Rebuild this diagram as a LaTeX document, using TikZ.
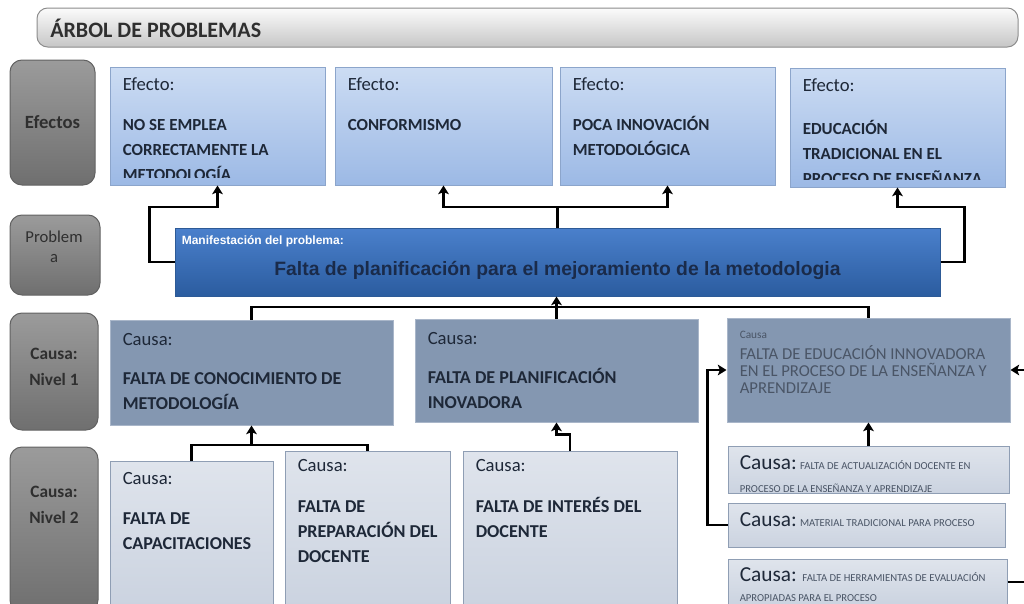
\documentclass[tikz,border=0pt]{standalone}
\usepackage{fontspec}
\setmainfont{Carlito}
\newfontfamily\arialfont{Liberation Sans}
\usetikzlibrary{arrows.meta,calc,fit}

\definecolor{efTop}{HTML}{CCDCF3}
\definecolor{efBot}{HTML}{9CB9E5}
\definecolor{efLine}{HTML}{8CA5CB}
\definecolor{probTop}{HTML}{4A80CC}
\definecolor{probBot}{HTML}{2B5C9F}
\definecolor{probLine}{HTML}{2D5A96}
\definecolor{probText}{HTML}{1A2B4A}
\definecolor{nivUnoFill}{HTML}{8497B1}
\definecolor{nivUnoLine}{HTML}{A9B6C9}
\definecolor{nivDosTop}{HTML}{DFE4EC}
\definecolor{nivDosBot}{HTML}{CBD3E0}
\definecolor{nivDosLine}{HTML}{8F9EB4}
\definecolor{lblTop}{HTML}{9B9B9B}
\definecolor{lblBot}{HTML}{6F6F6F}
\definecolor{lblLine}{HTML}{626262}
\definecolor{lblText}{HTML}{2F2F2F}
\definecolor{titTop}{HTML}{FBFBFB}
\definecolor{titBot}{HTML}{C6C6C6}
\definecolor{titLine}{HTML}{8C8C8C}
\definecolor{txtOscuro}{HTML}{1E2838}
\definecolor{txtGris}{HTML}{4A5566}

\begin{document}
\begin{tikzpicture}[x=0.75pt,y=0.75pt,yscale=-1,xscale=1,
  caja/.style={inner sep=0pt, line width=0.75pt},
  efecto/.style={caja, draw=efLine, top color=efTop, bottom color=efBot},
  etiqueta/.style={caja, draw=lblLine, top color=lblTop, bottom color=lblBot, rounded corners=9pt},
  causaUno/.style={caja, draw=nivUnoLine, fill=nivUnoFill},
  causaDos/.style={caja, draw=nivDosLine, top color=nivDosTop, bottom color=nivDosBot},
  texto/.style={anchor=base west, inner sep=0pt, align=left, text=txtOscuro},
  cabeza/.style={texto, font=\fontsize{14}{18.75}\selectfont},
  cuerpo/.style={texto, font=\bfseries\fontsize{12.7}{18.75}\selectfont},
  cuerpoCausa/.style={texto, font=\bfseries\fontsize{13.6}{18.75}\selectfont},
  rotulo/.style={inner sep=0pt, align=center, text=lblText, font=\bfseries\fontsize{13}{19.5}\selectfont},
  enlace/.style={line width=1.6pt, black},
  flecha/.style={enlace, -{Stealth[length=6.5pt,width=8pt,inset=1.5pt]}},
]
\useasboundingbox (0,0) rectangle (1024,603);
\clip (0,0) rectangle (1024,603);

% Title
\node[caja, draw=titLine, top color=titTop, bottom color=titBot, rounded corners=8pt, fit={(37,8) (1018,47)}] (titulo) {};
\node[anchor=west, inner sep=0pt, text=lblText, font=\bfseries\fontsize{16.5}{18}\selectfont] (tituloTxt) at (50,28) {ÁRBOL DE PROBLEMAS};

% Row labels
\node[etiqueta, fit={(10,60) (95,185)}] (lEfectos) {};
\node[rotulo, font=\bfseries\fontsize{14}{19.5}\selectfont] at (lEfectos.center) {Efectos};
\node[etiqueta, fit={(10,215) (100,295)}] (lProblema) {};
\node[rotulo, font=\fontsize{12.5}{15}\selectfont] at (54,247) {Problem\\a};
\node[etiqueta, fit={(10,313) (98,430)}] (lNivelUno) {};
\node[rotulo] at (54,367) {Causa:\\Nivel 1};
\node[etiqueta, fit={(10,447) (98,612)}] (lNivelDos) {};
\node[rotulo] at (54,505) {Causa:\\Nivel 2};

% Effects
\node[efecto, fit={(110,67) (325,185)}] (ef1) {};
\node[efecto, fit={(335,67) (552,185)}] (ef2) {};
\node[efecto, fit={(560,67) (775,185)}] (ef3) {};
\node[efecto, fit={(790,68) (1005,187)}] (ef4) {};
\begin{scope}
\clip (ef1.north west) rectangle ($(ef1.south east)+(0,-8)$);
\node[cabeza] (ef1Cab) at ($(ef1.north west)+(13,24)$) {Efecto:};
\node[cuerpo] (ef1Txt) at ($(ef1.north west)+(13,114)$) {NO SE EMPLEA\\CORRECTAMENTE LA\\METODOLOGÍA};
\end{scope}
\node[cabeza] (ef2Cab) at ($(ef2.north west)+(13,24)$) {Efecto:};
\node[cuerpo] (ef2Txt) at ($(ef2.north west)+(13,64)$) {CONFORMISMO};
\node[cabeza] (ef3Cab) at ($(ef3.north west)+(13,24)$) {Efecto:};
\node[cuerpo] (ef3Txt) at ($(ef3.north west)+(13,89)$) {POCA INNOVACIÓN\\METODOLÓGICA};
\begin{scope}
\clip (ef4.north west) rectangle ($(ef4.south east)+(0,-8)$);
\node[cabeza] (ef4Cab) at ($(ef4.north west)+(13,24)$) {Efecto:};
\node[cuerpo] (ef4Txt) at ($(ef4.north west)+(13,117)$) {EDUCACIÓN\\TRADICIONAL EN EL\\PROCESO DE ENSEÑANZA};
\end{scope}

% Problem
\node[caja, draw=probLine, top color=probTop, bottom color=probBot, fit={(175,228) (940,296)}] (prob) {};
\node[anchor=base west, inner sep=0pt, text=white, font=\arialfont\bfseries\fontsize{9}{10}\selectfont] (probCab) at ($(prob.north west)+(7,17)$) {Manifestación del problema:};
\node[inner sep=0pt, text=probText, font=\arialfont\bfseries\fontsize{14.5}{16}\selectfont] (probTxt) at ($(prob.center)+(0,8)$) {Falta de planificación para el mejoramiento de la metodologia};

% Causes, level 1
\node[causaUno, fit={(110,320) (393,425)}] (c1) {};
\node[causaUno, fit={(415,319) (698,422)}] (c2) {};
\node[causaUno, fit={(727,318) (1010,422)}] (c3) {};
\node[cabeza] (c1Cab) at ($(c1.north west)+(13,26)$) {Causa:};
\node[cuerpoCausa] (c1Txt) at ($(c1.north west)+(13,90)$) {FALTA DE CONOCIMIENTO DE\\METODOLOGÍA};
\node[cabeza] (c2Cab) at ($(c2.north west)+(13,26)$) {Causa:};
\node[cuerpoCausa] (c2Txt) at ($(c2.north west)+(13,90)$) {FALTA DE PLANIFICACIÓN\\INOVADORA};
\node[texto, text=txtGris, font=\fontsize{8.5}{10}\selectfont] (c3Cab) at ($(c3.north west)+(13,21)$) {Causa};
\node[texto, text=txtGris, font=\fontsize{12.5}{12.75}\selectfont] (c3Txt) at ($(c3.north west)+(13,76)$) {FALTA DE EDUCACIÓN INNOVADORA\\EN EL PROCESO DE LA ENSEÑANZA Y\\APRENDIZAJE};

% Causes, level 2
\node[causaDos, fit={(110,461) (273,606)}] (l2a) {};
\node[causaDos, fit={(285,451) (450,606)}] (l2b) {};
\node[causaDos, fit={(463,451) (677,606)}] (l2c) {};
\node[cabeza] (l2aCab) at ($(l2a.north west)+(13,24)$) {Causa:};
\node[cuerpoCausa] (l2aTxt) at ($(l2a.north west)+(13,89)$) {FALTA DE\\CAPACITACIONES};
\node[cabeza] (l2bCab) at ($(l2b.north west)+(13,21)$) {Causa:};
\node[cuerpoCausa] (l2bTxt) at ($(l2b.north west)+(13,112)$) {FALTA DE\\PREPARACIÓN DEL\\DOCENTE};
\node[cabeza] (l2cCab) at ($(l2c.north west)+(13,21)$) {Causa:};
\node[cuerpoCausa] (l2cTxt) at ($(l2c.north west)+(13,87)$) {FALTA DE INTERÉS DEL\\DOCENTE};

\node[causaDos, fit={(728,446) (1009,493)}] (r1) {};
\node[causaDos, fit={(728,503) (1005,547)}] (r2) {};
\node[causaDos, fit={(728,559) (1007,605)}] (r3) {};
\node[texto, text=txtGris, font=\fontsize{8}{17}\selectfont] (r1Txt) at ($(r1.north west)+(12,47)$) {{\fontsize{16}{17}\selectfont\color{txtOscuro}Causa:} FALTA DE ACTUALIZACIÓN DOCENTE EN\\PROCESO DE LA ENSEÑANZA Y APRENDIZAJE};
\node[texto, text=txtGris, font=\fontsize{8}{17}\selectfont] (r2Txt) at ($(r2.north west)+(12,24)$) {{\fontsize{16}{17}\selectfont\color{txtOscuro}Causa:} MATERIAL TRADICIONAL PARA PROCESO};
\node[texto, text=txtGris, font=\fontsize{8}{15}\selectfont] (r3Txt) at ($(r3.north west)+(12,43)$) {{\fontsize{16}{17}\selectfont\color{txtOscuro}Causa:} \ FALTA DE HERRAMIENTAS DE EVALUACIÓN\\APROPIADAS PARA EL PROCESO};

% Connectors
\coordinate (busEf) at (0,207);
\coordinate (busUno) at (0,307);
\coordinate (busDos) at (0,445);
\draw[flecha] (prob.west) -- ++(-25,0) |- (ef1.south |- busEf) -- (ef1.south);
\draw[enlace] (prob.north) -- (prob.north |- busEf);
\draw[flecha] (prob.north |- busEf) -| (ef2.south);
\draw[flecha] (prob.north |- busEf) -| (ef3.south);
\draw[flecha] (prob.east) -- ++(24,0) |- (ef4.south |- busEf) -- (ef4.south);
\draw[enlace] (c1.north) |- (c3.north |- busUno) -- (c3.north);
\draw[flecha] (c2.north) -- (c2.north |- prob.south);
\draw[enlace] (l2a.north) |- (l2b.north |- busDos) -- (l2b.north);
\draw[flecha] (c1.south |- busDos) -- (c1.south);
\draw[flecha] (l2c.north) -- ++(0,-16) -| (c2.south);
\draw[flecha] (r1.north) -- (r1.north |- c3.south);
\draw[flecha] (r2.west) -- ++(-20,0) |- (c3.west);
\draw[flecha] (r3.east) -- ++(40,0) |- (c3.east);

\end{tikzpicture}
\end{document}
